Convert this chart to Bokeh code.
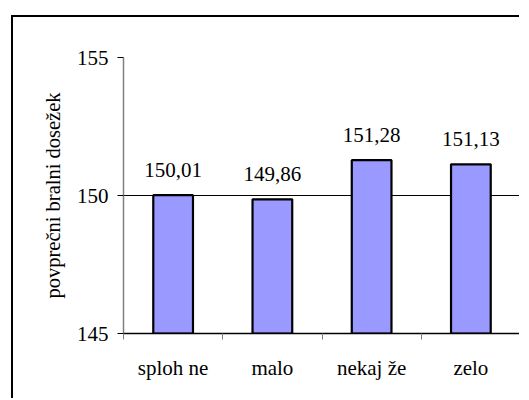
from bokeh.plotting import figure
from bokeh.models import ColumnDataSource, LabelSet, FixedTicker, Range1d
from bokeh.core.properties import value
from bokeh.embed import file_html
from bokeh.resources import INLINE

categories = ["sploh ne", "malo", "nekaj že", "zelo"]
values = [150.01, 149.86, 151.28, 151.13]
y_ticks = [145, 150, 155]
y_label = "povprečni bralni dosežek"

FONT = "Liberation Serif"
FS = "21px"

xs = [i + 0.5 for i in range(len(categories))]
src = ColumnDataSource(dict(
    x=xs, top=values,
    txt=[f"{v:.2f}".replace(".", ",") for v in values],
))

p = figure(width=508, height=383, output_backend="svg", toolbar_location=None,
           x_range=Range1d(0, len(categories)), y_range=Range1d(145, 155),
           min_border_left=110, min_border_top=40, min_border_right=1, min_border_bottom=67)
p.margin = (15, 0, 0, 11)
p.styles = {"border-left": "2px solid black", "border-top": "2px solid black"}
p.outline_line_color = None
p.background_fill_color = "white"

p.vbar(x="x", top="top", bottom=145, width=0.40, source=src,
       fill_color="#9999FF", line_color="black", line_width=2.2)

labels = LabelSet(x="x", y="top", text="txt", source=src, text_align="center",
                  text_baseline="alphabetic", y_offset=18,
                  text_font=value(FONT), text_font_size=value(FS), text_color="black")
p.add_layout(labels)

# x axis
p.xaxis.ticker = FixedTicker(ticks=xs, minor_ticks=list(range(len(categories) + 1)))
p.xaxis.major_label_overrides = {x: c for x, c in zip(xs, categories)}
p.xaxis.major_tick_line_color = None
p.xaxis.minor_tick_out = 6
p.xaxis.minor_tick_in = 0
p.xaxis.minor_tick_line_color = "#808080"
p.xaxis.axis_line_color = "black"
p.xaxis.axis_line_width = 1.5
p.xaxis.major_label_standoff = 16
p.xaxis.major_label_text_font = FONT
p.xaxis.major_label_text_font_size = FS
p.xaxis.major_label_text_color = "black"

# y axis
p.yaxis.ticker = FixedTicker(ticks=y_ticks)
p.yaxis.minor_tick_line_color = None
p.yaxis.major_tick_out = 6
p.yaxis.major_tick_in = 0
p.yaxis.major_tick_line_color = "black"
p.yaxis.axis_line_color = "#808080"
p.yaxis.axis_line_width = 1.5
p.yaxis.major_label_standoff = 9
p.yaxis.major_label_text_font = FONT
p.yaxis.major_label_text_font_size = FS
p.yaxis.major_label_text_color = "black"
p.yaxis.axis_label = y_label
p.yaxis.axis_label_text_font = FONT
p.yaxis.axis_label_text_font_size = "20.5px"
p.yaxis.axis_label_text_font_style = "normal"
p.yaxis.axis_label_text_color = "black"
p.yaxis.axis_label_standoff = 10

p.xgrid.grid_line_color = None
p.ygrid.grid_line_color = "black"
p.ygrid.grid_line_width = 1

open("out.html", "w").write(file_html(p, INLINE))
